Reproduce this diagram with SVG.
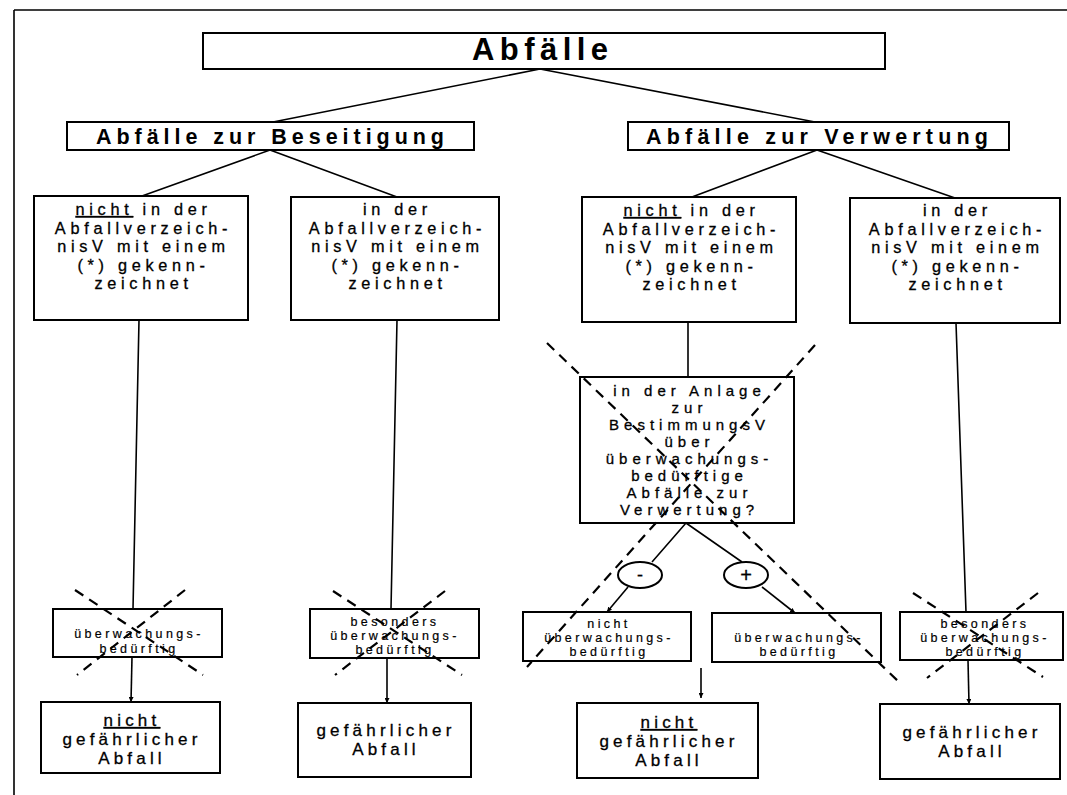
<svg xmlns="http://www.w3.org/2000/svg" width="1067" height="795" viewBox="0 0 1067 795">
<defs>
<marker id="ar" viewBox="0 0 10 10" refX="10" refY="5" markerWidth="5" markerHeight="5" orient="auto" markerUnits="userSpaceOnUse"><path d="M0,0 L10,5 L0,10 z" fill="#000"/></marker>
<style>
.bx{fill:#fff;stroke:#000;stroke-width:2}
.ln{stroke:#000;stroke-width:1.6;fill:none}
.la{stroke:#000;stroke-width:1.6;fill:none;marker-end:url(#ar)}
.x{stroke:#000;stroke-width:2.2;stroke-dasharray:10 7;fill:none}
text{font-family:'Liberation Sans',Arial,sans-serif;fill:#000;text-anchor:middle;stroke:#000;stroke-width:0.3}
.h{font-weight:bold;stroke-width:0}
.t{font-size:16.3px;letter-spacing:4.7px}
.b{font-size:17px;letter-spacing:4.2px}
.s{font-size:12.5px;letter-spacing:3.4px;stroke-width:0.2}
.d{font-size:15px;letter-spacing:5px}
</style>
</defs>
<rect width="1067" height="795" fill="#fff"/>
<g id="frame"><path class="ln" d="M14,10 H1067 M14,10 V795" stroke-width="1.2"/></g>

<g id="connectors">
<path class="ln" d="M540,69 L273,122 M540,69 L815,122"/>
<path class="ln" d="M270,150 L142,196 M270,150 L397,197"/>
<path class="ln" d="M817,150 L692,197 M817,150 L955,198"/>
<path class="ln" d="M139,320 L133,609 M397,320 L391,609 M688,322 L688,377 M956,323 L966,612"/>
<path class="ln" d="M686,523 L652,562 M686,523 L742,562"/>
<path class="la" d="M628,587 L607,612"/>
<path class="la" d="M762,587 L795,613"/>
<path class="la" d="M701,668 L701,698"/>
<path class="la" d="M132,657 L131,702"/>
<path class="la" d="M387,658 L387,703"/>
<path class="la" d="M968,660 L969,704"/>
</g>

<g id="n-abfaelle"><rect class="bx" x="203" y="33" width="682" height="36"/>
<text class="h" x="540" y="60" font-size="31" textLength="136" lengthAdjust="spacing">Abfälle</text></g>

<g id="n-beseitigung"><rect class="bx" x="67" y="122" width="407" height="28"/>
<text class="h" x="270" y="144" font-size="21.5" textLength="348" lengthAdjust="spacing">Abfälle zur Beseitigung</text></g>

<g id="n-verwertung"><rect class="bx" x="628" y="122" width="381" height="28"/>
<text class="h" x="817" y="144" font-size="21.5" textLength="342" lengthAdjust="spacing">Abfälle zur Verwertung</text></g>

<g id="n-b1"><rect class="bx" x="34" y="196" width="214" height="124"/>
<text class="t" x="143.5" y="215"><tspan text-decoration="underline">nicht</tspan> in der</text>
<text class="t" x="143.5" y="233.5">Abfallverzeich-</text>
<text class="t" x="143.5" y="252">nisV mit einem</text>
<text class="t" x="143.5" y="270.5">(*) gekenn-</text>
<text class="t" x="143.5" y="289">zeichnet</text></g>

<g id="n-b2"><rect class="bx" x="291" y="197" width="208" height="123"/>
<text class="t" x="397.5" y="215">in der</text>
<text class="t" x="397.5" y="233.5">Abfallverzeich-</text>
<text class="t" x="397.5" y="252">nisV mit einem</text>
<text class="t" x="397.5" y="270.5">(*) gekenn-</text>
<text class="t" x="397.5" y="289">zeichnet</text></g>

<g id="n-v1"><rect class="bx" x="582" y="197" width="214" height="125"/>
<text class="t" x="691.5" y="216"><tspan text-decoration="underline">nicht</tspan> in der</text>
<text class="t" x="691.5" y="234.5">Abfallverzeich-</text>
<text class="t" x="691.5" y="253">nisV mit einem</text>
<text class="t" x="691.5" y="271.5">(*) gekenn-</text>
<text class="t" x="691.5" y="290">zeichnet</text></g>

<g id="n-v2"><rect class="bx" x="850" y="198" width="210" height="125"/>
<text class="t" x="957.5" y="216">in der</text>
<text class="t" x="957.5" y="234.5">Abfallverzeich-</text>
<text class="t" x="957.5" y="253">nisV mit einem</text>
<text class="t" x="957.5" y="271.5">(*) gekenn-</text>
<text class="t" x="957.5" y="290">zeichnet</text></g>

<g id="n-decision"><rect class="bx" x="580" y="377" width="214" height="146"/>
<text class="d" x="689.5" y="396">in der Anlage</text>
<text class="d" x="689.5" y="413">zur</text>
<text class="d" x="689.5" y="430">BestimmungsV</text>
<text class="d" x="689.5" y="447">über</text>
<text class="d" x="689.5" y="464">überwachungs-</text>
<text class="d" x="689.5" y="481">bedürftige</text>
<text class="d" x="689.5" y="498">Abfälle zur</text>
<text class="d" x="689.5" y="515">Verwertung?</text></g>

<g id="n-minus"><ellipse cx="640" cy="575" rx="22" ry="13" fill="#fff" stroke="#000" stroke-width="2"/>
<text x="640" y="581" font-size="18">-</text></g>
<g id="n-plus"><ellipse cx="746" cy="575" rx="22" ry="13" fill="#fff" stroke="#000" stroke-width="2"/>
<text x="746" y="582" font-size="20">+</text></g>

<g id="n-a"><rect class="bx" x="53" y="609" width="169" height="48"/>
<text class="s" x="139" y="638">überwachungs-</text>
<text class="s" x="139" y="653">bedürftig</text></g>

<g id="n-b"><rect class="bx" x="310" y="609" width="169" height="49"/>
<text class="s" x="395" y="626">besonders</text>
<text class="s" x="395" y="640">überwachungs-</text>
<text class="s" x="395" y="654">bedürftig</text></g>

<g id="n-e"><rect class="bx" x="523" y="612" width="168" height="49"/>
<text class="s" x="609" y="628">nicht</text>
<text class="s" x="609" y="642">überwachungs-</text>
<text class="s" x="609" y="656">bedürftig</text></g>

<g id="n-f"><rect class="bx" x="712" y="613" width="169" height="49"/>
<text class="s" x="799" y="642">überwachungs-</text>
<text class="s" x="799" y="656">bedürftig</text></g>

<g id="n-g"><rect class="bx" x="900" y="612" width="163" height="48"/>
<text class="s" x="985" y="628">besonders</text>
<text class="s" x="985" y="642">überwachungs-</text>
<text class="s" x="985" y="656">bedürftig</text></g>

<g id="n-c"><rect class="bx" x="41" y="702" width="179" height="71"/>
<text class="b" x="132" y="726"><tspan text-decoration="underline">nicht</tspan></text>
<text class="b" x="132" y="745">gefährlicher</text>
<text class="b" x="132" y="764">Abfall</text></g>

<g id="n-d"><rect class="bx" x="298" y="703" width="173" height="74"/>
<text class="b" x="386" y="736">gefährlicher</text>
<text class="b" x="386" y="755">Abfall</text></g>

<g id="n-h"><rect class="bx" x="577" y="703" width="181" height="75"/>
<text class="b" x="669" y="728"><tspan text-decoration="underline">nicht</tspan></text>
<text class="b" x="669" y="747">gefährlicher</text>
<text class="b" x="669" y="766">Abfall</text></g>

<g id="n-i"><rect class="bx" x="880" y="704" width="180" height="75"/>
<text class="b" x="972" y="738">gefährlicher</text>
<text class="b" x="972" y="757">Abfall</text></g>

<g id="crossouts">
<path class="x" d="M547,343 L900,683 M815,345 L527,667"/>
<path class="x" d="M75,590 L203,675 M185,590 L77,675"/>
<path class="x" d="M333,591 L462,675 M445,591 L335,675"/>
<path class="x" d="M913,593 L1043,677 M1038,593 L927,678"/>
</g>
</svg>
